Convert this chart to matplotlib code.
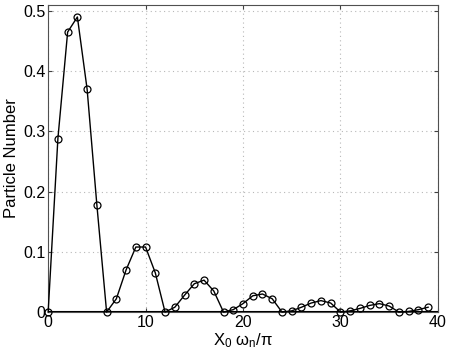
import numpy as np
import matplotlib
matplotlib.use('Agg')
import matplotlib.pyplot as plt

plt.rcParams['font.family'] = ['Liberation Sans', 'DejaVu Sans']
plt.rcParams['mathtext.fontset'] = 'custom'
plt.rcParams['mathtext.rm'] = 'Liberation Sans'
plt.rcParams['mathtext.it'] = 'Liberation Sans'

# 数据
x = np.arange(0, 40)
particle_number = [0.0, 0.288, 0.465, 0.490, 0.370, 0.178,
                   0.0, 0.022, 0.070, 0.108, 0.108, 0.065,
                   0.0, 0.008, 0.028, 0.047, 0.053, 0.035,
                   0.0, 0.004, 0.014, 0.027, 0.030, 0.022,
                   0.0, 0.002, 0.008, 0.015, 0.019, 0.015,
                   0.0, 0.002, 0.006, 0.011, 0.014, 0.010,
                   0.0, 0.001, 0.004, 0.008]

fig = plt.figure(figsize=(4.5, 3.53), dpi=100)
ax = fig.add_axes([0.107, 0.116, 0.866, 0.870])

ax.plot(x, particle_number, color='black', linewidth=1.0,
        marker='o', markersize=5, markerfacecolor='none',
        markeredgecolor='black', markeredgewidth=0.9, clip_on=False, zorder=5)
ax.axhline(0, color='black', linewidth=1.5, zorder=4)

ax.set_xlim(0, 40)
ax.set_ylim(0, 0.51)
ax.set_xticks([0, 10, 20, 30, 40])
ax.set_yticks([0, 0.1, 0.2, 0.3, 0.4, 0.5])
ax.set_yticklabels(['0', '0.1', '0.2', '0.3', '0.4', '0.5'])
ax.tick_params(direction='in', labelsize=11.5, length=3, top=True, right=True,
               color='#404040', pad=2)
for s in ax.spines.values():
    s.set_color('#505050')
    s.set_linewidth(0.8)
ax.grid(True, linestyle=(0, (1, 3)), color='#b8b8b8', linewidth=0.8)

ax.set_xlabel(r'X$_0$ $\omega_n/\pi$', fontsize=12, labelpad=1)
ax.set_ylabel('Particle Number', fontsize=12, labelpad=3)

fig.savefig('out.png', dpi=100)
